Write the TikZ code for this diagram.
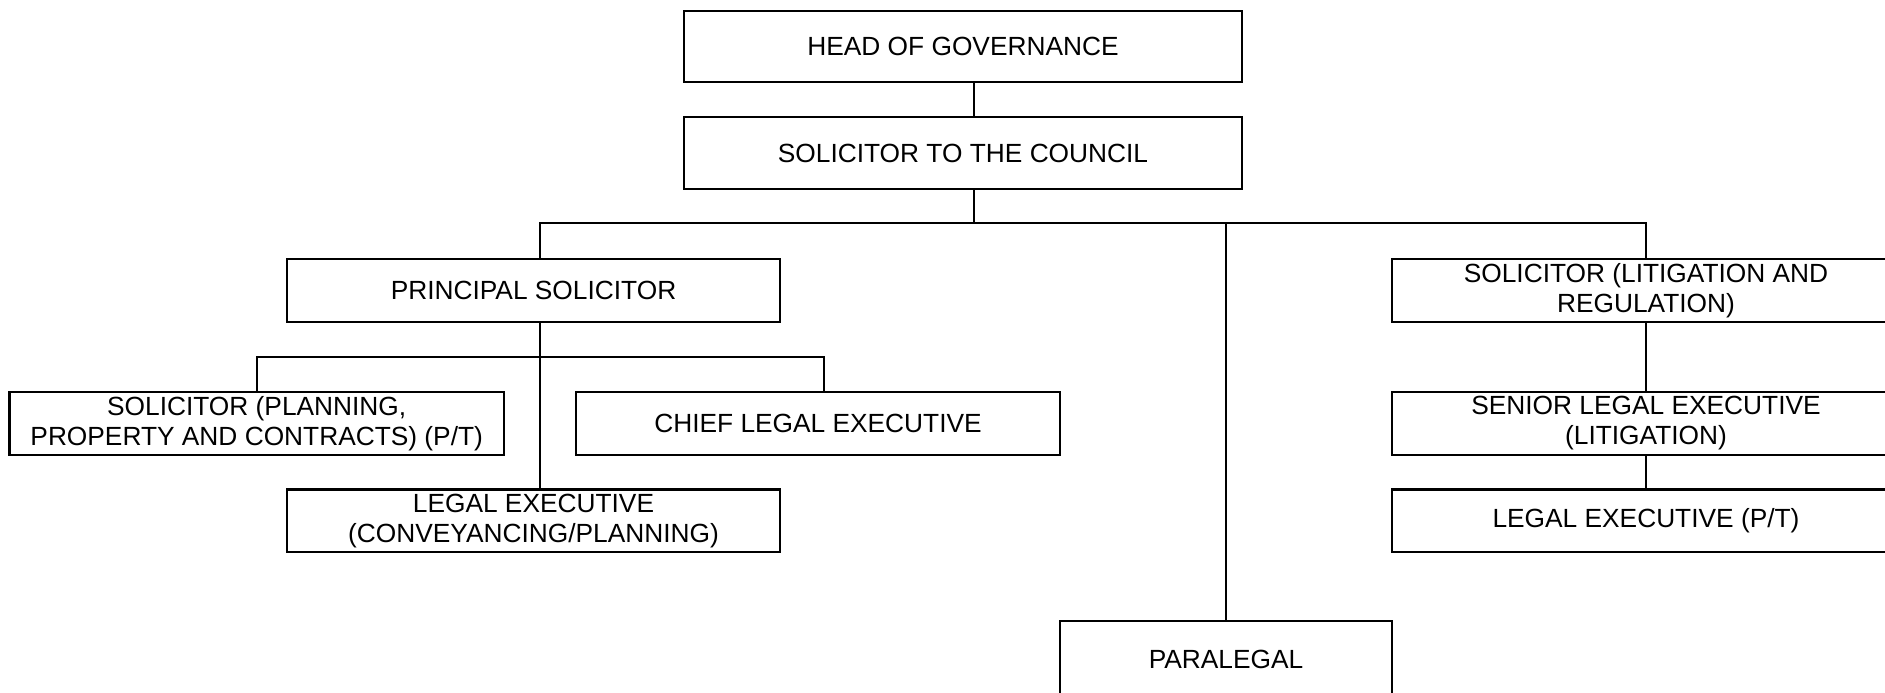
\documentclass[tikz,border=0pt]{standalone}
\usepackage{fontspec}
\setmainfont{Liberation Sans}
\begin{document}
\begin{tikzpicture}[x=1pt,y=-1pt,
  box/.style={draw=black,line width=2.2pt,inner sep=0pt,outer sep=0pt,
    align=center,font=\fontsize{26.3pt}{30pt}\selectfont},
  link/.style={draw=black,line width=2.2pt}]
\useasboundingbox (0,0) rectangle (1885,693);
\fill[white] (0,0) rectangle (1885,693);
\clip (0,0) rectangle (1885,693);
% boxes
\node[box,minimum width=558pt,minimum height=71pt] (head) at (963,46.5) {HEAD OF GOVERNANCE};
\node[box,minimum width=558pt,minimum height=72pt] (council) at (963,153) {SOLICITOR TO THE COUNCIL};
\node[box,minimum width=493pt,minimum height=63pt] (principal) at (533.5,290.5) {PRINCIPAL SOLICITOR};
\node[box,minimum width=508pt,minimum height=63pt] (sollit) at (1646,290.5) {SOLICITOR (LITIGATION AND\\REGULATION)};
\node[box,minimum width=494.5pt,minimum height=63pt] (solplan) at (256.7,423.5) {SOLICITOR (PLANNING,\\PROPERTY AND CONTRACTS) (P/T)};
\node[box,minimum width=484pt,minimum height=63pt] (chief) at (818,423.5) {CHIEF LEGAL EXECUTIVE};
\node[box,minimum width=493pt,minimum height=62.5pt] (legconv) at (533.5,520.8) {LEGAL EXECUTIVE\\(CONVEYANCING/PLANNING)};
\node[box,minimum width=508pt,minimum height=63pt] (senior) at (1646,423.5) {SENIOR LEGAL EXECUTIVE\\(LITIGATION)};
\node[box,minimum width=508pt,minimum height=62.5pt] (legpt) at (1646,520.8) {LEGAL EXECUTIVE (P/T)};
\node[box,minimum width=332pt,minimum height=77pt] (paralegal) at (1226,659.2) {PARALEGAL};
% bus levels
\coordinate (bus) at (0,223);
\coordinate (sub) at (0,356.7);
% connectors
\draw[link] ([xshift=11pt]head.south) -- ([xshift=11pt]council.north);
\draw[link] ([xshift=11pt]council.south) -- ([xshift=11pt]council.south |- bus);
\draw[link] ([xshift=6.5pt]principal.north) |- (sollit.north |- bus) -- (sollit.north);
\draw[link] (paralegal.north) -- (paralegal.north |- bus);
\draw[link] ([xshift=6.5pt]principal.south) -- ([xshift=6.5pt]legconv.north);
\draw[link] (solplan.north) |- ([xshift=6pt]chief.north |- sub) -- ([xshift=6pt]chief.north);
\draw[link] (sollit.south) -- (senior.north);
\draw[link] (senior.south) -- (legpt.north);
\end{tikzpicture}
\end{document}
